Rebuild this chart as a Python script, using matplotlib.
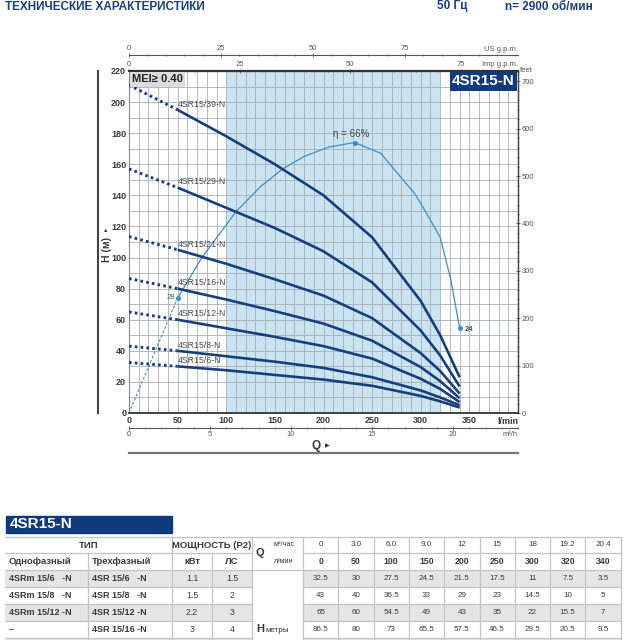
import matplotlib.pyplot as plt
from matplotlib.patches import Rectangle
from matplotlib.lines import Line2D
from matplotlib.ticker import MultipleLocator

plt.rcParams['font.family'] = ['Liberation Sans', 'DejaVu Sans']

NAVY = '#173f80'
EFF = '#3d8ec9'
SHADE = '#cbe4f1'
GRID = '#a9aeb3'
TXT = '#3a3a3a'

# flow points (l/min) and heads (m) of each pump
q_lmin = [0, 50, 100, 150, 200, 250, 300, 320, 340]
q_m3h = ['0', '3.0', '6.0', '9.0', '12', '15', '18', '19.2', '20.4']
h_6 = [32.5, 30, 27.5, 24.5, 21.5, 17.5, 11, 7.5, 3.5]
h_8 = [43, 40, 36.5, 33, 29, 23, 14.5, 10, 5]
h_12 = [65, 60, 54.5, 49, 43, 35, 22, 15.5, 7]
h_16 = [86.5, 80, 73, 65.5, 57.5, 46.5, 29.5, 20.5, 9.5]
h_21 = [113.5, 105, 96, 86, 75.5, 61, 38.5, 27, 12.5]
h_29 = [157, 145, 132, 119, 104, 84, 53, 37, 17]
h_39 = [211, 195, 178, 160, 140, 113, 72, 50, 23]
curve_names = ['4SR15/6-N', '4SR15/8-N', '4SR15/12-N', '4SR15/16-N',
               '4SR15/21-N', '4SR15/29-N', '4SR15/39-N']

# efficiency curve, drawn on the head scale
eff_q_dash = [0, 50]
eff_h_dash = [0, 74]
eff_q = [50, 75, 110, 135, 158, 180, 205, 232, 259, 275, 294, 306, 320, 331, 340]
eff_h = [74, 100, 129.5, 145.5, 157, 165, 171, 174, 167, 155, 141, 128.5, 113, 85.5, 54.5]

# table
single = ['4SRm 15/6   -N', '4SRm 15/8   -N', '4SRm 15/12 -N', '–']
three = ['4SR 15/6   -N', '4SR 15/8   -N', '4SR 15/12 -N', '4SR 15/16 -N']
kw = ['1.1', '1.5', '2.2', '3']
hp = ['1.5', '2', '3', '4']

heads = [h_6, h_8, h_12, h_16, h_21, h_29, h_39]
table_heads = [h_6, h_8, h_12, h_16]

fig = plt.figure(figsize=(6.4, 6.4), dpi=100)

# pixel canvas for the table and loose texts
tax = fig.add_axes([0, 0, 1, 1])
tax.set_xlim(0, 640)
tax.set_ylim(640, 0)
tax.axis('off')

tax.text(5, 0.5, 'ТЕХНИЧЕСКИЕ ХАРАКТЕРИСТИКИ', color=NAVY, fontsize=8.5,
         fontweight='bold', va='top')
tax.text(437, 0.5, '50 Гц', color=NAVY, fontsize=8.5, fontweight='bold', va='top')
tax.text(505, 0.5, 'n= 2900 об/мин', color=NAVY, fontsize=8.5, fontweight='bold', va='top')

# H axis label and Q label
tax.add_line(Line2D([98, 98], [71, 413], color='#444', lw=1.5))
tax.text(107, 250, 'H (м)', rotation=90, fontsize=7.5, fontweight='bold',
         ha='center', va='center', color=TXT)
tax.text(106, 231, '▲', fontsize=4, ha='center', va='center', color=TXT)
tax.add_line(Line2D([129, 518], [453, 453], color='#777', lw=1.6))
tax.text(316, 446, 'Q', fontsize=8.5, fontweight='bold', ha='center', va='center', color=TXT)
tax.text(327, 446, '▶', fontsize=4.5, ha='center', va='center', color=TXT)

# table title bar
tax.add_patch(Rectangle((6, 516), 166, 17, color='#0f3a7c'))
tax.text(10, 524.5, '4SR15-N', color='white', fontsize=11, fontweight='bold', va='center')

xs = [5, 88, 172, 212, 252, 303] + [303 + 35.3 * (i + 1) for i in range(9)]
ys = [537, 553, 570, 587, 604, 621, 638, 655]
LINE = '#c4c4c4'
for r in range(5):
    if r % 2 == 0:
        y0 = ys[2 + r]
        for c in range(len(xs) - 1):
            if c == 4:
                continue
            tax.add_patch(Rectangle((xs[c], y0), xs[c + 1] - xs[c], 17,
                                    color='#e5e5e5', lw=0))

def hline(y, x0, x1):
    tax.add_line(Line2D([x0, x1], [y, y], color=LINE, lw=0.9))

def vline(x, y0, y1):
    tax.add_line(Line2D([x, x], [y0, y1], color=LINE, lw=0.9))

hline(537, 5, 621)
hline(553, 5, 252)
hline(553, 303, 621)
for y in ys[2:]:
    hline(y, 5, 252)
    hline(y, 303, 621)
hline(570, 252, 303)
vline(88, 553, 655)
vline(212, 553, 655)
for x in [172, 252, 303]:
    vline(x, 537, 655)
for x in xs[6:]:
    vline(x, 537, 655)

tax.text(88.5, 545, 'ТИП', fontsize=6.8, fontweight='bold', ha='center', va='center', color=TXT)
tax.text(212, 545, 'МОЩНОСТЬ (P2)', fontsize=6.8, fontweight='bold', ha='center', va='center', color=TXT)
tax.text(9, 561.5, 'Однофазный', fontsize=6.8, fontweight='bold', va='center', color=TXT)
tax.text(92, 561.5, 'Трехфазный', fontsize=6.8, fontweight='bold', va='center', color=TXT)
tax.text(192, 561.5, 'кВт', fontsize=6.8, fontweight='bold', ha='center', va='center', color=TXT)
tax.text(232, 561.5, 'ЛС', fontsize=6.8, fontweight='bold', ha='center', va='center', color=TXT)
tax.text(256, 553.5, 'Q', fontsize=8, fontweight='bold', va='center', color=TXT)
tax.text(284, 545, 'м³/час', fontsize=5.3, ha='center', va='center', color=TXT)
tax.text(284, 561.5, 'л/мин', fontsize=5.3, ha='center', va='center', color=TXT)
tax.text(256, 629.5, 'H', fontsize=8, fontweight='bold', va='center', color=TXT)
tax.text(265, 630, 'метры', fontsize=5.8, va='center', color=TXT)

for c in range(9):
    xc = (xs[5 + c] + xs[6 + c]) / 2
    tax.text(xc, 545, q_m3h[c], fontsize=5.8, ha='center', va='center', color=TXT)
    tax.text(xc, 561.5, str(q_lmin[c]), fontsize=6.3, fontweight='bold',
             ha='center', va='center', color=TXT)

for r in range(len(three)):
    yc = ys[2 + r] + 8.5
    tax.text(9, yc, single[r], fontsize=6.5, fontweight='bold', va='center', color=TXT)
    tax.text(92, yc, three[r], fontsize=6.5, fontweight='bold', va='center', color=TXT)
    tax.text(192, yc, kw[r], fontsize=6.3, ha='center', va='center', color=TXT)
    tax.text(232, yc, hp[r], fontsize=6.3, ha='center', va='center', color=TXT)
    for c in range(9):
        xc = (xs[5 + c] + xs[6 + c]) / 2
        tax.text(xc, yc, f'{table_heads[r][c]:g}', fontsize=5.8,
                 ha='center', va='center', color=TXT)

# main chart
L, R, T, B = 129, 518, 71, 413
ax = fig.add_axes([L / 640, 1 - B / 640, (R - L) / 640, (B - T) / 640])
ax.set_xlim(0, 400)
ax.set_ylim(0, 220)
ax.set_facecolor('white')
ax.axvspan(100, 320, color=SHADE, zorder=0, lw=0)
ax.set_xticks(range(0, 351, 50))
ax.set_yticks(range(0, 221, 20))
ax.xaxis.set_minor_locator(MultipleLocator(10))
ax.yaxis.set_minor_locator(MultipleLocator(10))
ax.grid(which='both', color=GRID, lw=0.6)
ax.set_axisbelow(True)
ax.tick_params(which='both', length=0, labelsize=6.5, pad=2, labelcolor=TXT)
for lbl in ax.get_xticklabels() + ax.get_yticklabels():
    lbl.set_fontweight('bold')
ax.spines['top'].set_linewidth(1.6)
ax.spines['top'].set_color('#333')
ax.spines['bottom'].set_linewidth(1.3)
ax.spines['bottom'].set_color('#333')
ax.spines['right'].set_linewidth(1.0)
ax.spines['right'].set_color('#444')
ax.spines['left'].set_linewidth(0.8)
ax.spines['left'].set_color('#888')
ax.text(1.0, -0.012, 'l/min', transform=ax.transAxes, ha='right', va='top',
        fontsize=6.5, fontweight='bold', color=TXT)

for h, name in zip(heads, curve_names):
    ax.plot(q_lmin[:2], h[:2], color=NAVY, lw=2.1, ls=(0, (0.9, 1.1)),
            dash_capstyle='butt', zorder=3)
    ax.plot(q_lmin[1:], h[1:], color=NAVY, lw=1.9, solid_capstyle='butt',
            solid_joinstyle='round', zorder=3)
    ax.text(q_lmin[1], h[1] + 0.8, name, fontsize=6.3, color='#4a4a4a',
            ha='left', va='bottom', zorder=4)

ax.plot(eff_q_dash, eff_h_dash, color=EFF, lw=0.8, ls=(0, (2.5, 1.6)), zorder=2)
ax.plot(eff_q, eff_h, color=EFF, lw=0.9, zorder=2, solid_joinstyle='round')
ax.plot([eff_q[0], eff_q[7], eff_q[-1]], [eff_h[0], eff_h[7], eff_h[-1]],
        'o', color=EFF, ms=2.6, zorder=2)
ax.text(eff_q[0] - 3, eff_h[0], '28', fontsize=5.5, color='#555', ha='right', va='center')
ax.text(eff_q[-1] + 5, eff_h[-1] - 1, '24', fontsize=5.5, fontweight='bold',
        color='#444', ha='left', va='center')
ax.text(eff_q[7] - 4, eff_h[7] + 2.5, 'η = 66%', fontsize=7, color='#444',
        ha='center', va='bottom')

ax.text(0.008, 0.99, 'MEI≥ 0.40', transform=ax.transAxes, ha='left', va='top',
        fontsize=8, fontweight='bold', color='#222',
        bbox=dict(facecolor='#dcdcdc', edgecolor='none', pad=1.6))
ax.text(0.992, 0.99, '4SR15-N', transform=ax.transAxes, ha='right', va='top',
        fontsize=11, fontweight='bold', color='white', zorder=6,
        bbox=dict(facecolor='#0f3a7c', edgecolor='none', pad=1.5))

# secondary scales
def style_sec(sec, major):
    sec.set_ticks(major)
    sec.tick_params(which='major', direction='inout', length=3, width=0.6,
                    labelsize=5.5, labelcolor='#555', color='#555', pad=1)
    sec.tick_params(which='minor', direction='inout', length=2, width=0.5, color='#555')
    for sp in sec.spines.values():
        sp.set_linewidth(0.8)
        sp.set_color('#555')

off_us = 1 + 16 / (B - T)
sec_us = ax.secondary_xaxis(off_us, functions=(lambda x: x / 3.785, lambda x: x * 3.785))
style_sec(sec_us, [0, 25, 50, 75])
sec_us.xaxis.set_minor_locator(MultipleLocator(5))
ax.text(1.0, off_us + 0.006, 'US g.p.m.', transform=ax.transAxes, ha='right',
        va='bottom', fontsize=5.5, color='#555')

sec_imp = ax.secondary_xaxis('top', functions=(lambda x: x / 4.546, lambda x: x * 4.546))
style_sec(sec_imp, [0, 25, 50, 75])
sec_imp.xaxis.set_minor_locator(MultipleLocator(5))
ax.text(1.0, 1.008, 'Imp g.p.m.', transform=ax.transAxes, ha='right',
        va='bottom', fontsize=5.5, color='#555')

off_m3 = -15 / (B - T)
sec_m3 = ax.secondary_xaxis(off_m3, functions=(lambda x: x * 0.06, lambda x: x / 0.06))
style_sec(sec_m3, [0, 5, 10, 15, 20])
sec_m3.xaxis.set_minor_locator(MultipleLocator(1))
ax.text(1.0, off_m3 - 0.008, 'm³/h', transform=ax.transAxes, ha='right',
        va='top', fontsize=5.5, color='#555')

sec_ft = ax.secondary_yaxis('right', functions=(lambda y: y * 3.2808, lambda y: y / 3.2808))
style_sec(sec_ft, list(range(0, 701, 100)))
sec_ft.yaxis.set_minor_locator(MultipleLocator(20))
ax.text(1.006, 1.0, 'feet', transform=ax.transAxes, ha='left', va='center',
        fontsize=5.5, color='#555')

fig.savefig('out.png', dpi=100)
